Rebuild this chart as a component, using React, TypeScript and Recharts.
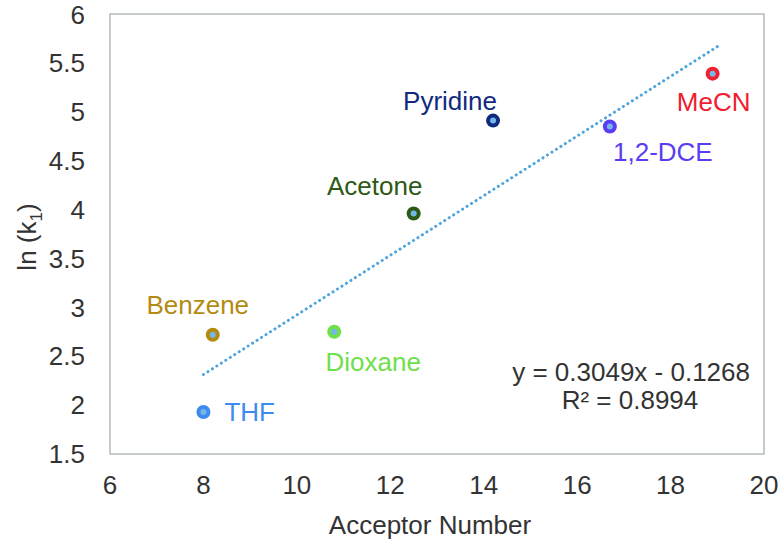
import { ScatterChart, Scatter, XAxis, YAxis, ReferenceArea, Customized } from 'recharts'

const solvents = ['THF', 'Benzene', 'Dioxane', 'Acetone', 'Pyridine', '1,2-DCE', 'MeCN']
const acceptorNumbers = [8.0, 8.2, 10.8, 12.5, 14.2, 16.7, 18.9]
const lnK1 = [1.93, 2.72, 2.75, 3.96, 4.91, 4.85, 5.39]

const xTicks = [6, 8, 10, 12, 14, 16, 18, 20]
const yTicks = [1.5, 2, 2.5, 3, 3.5, 4, 4.5, 5, 5.5, 6]

// linear fit shown on the chart
const slope = 0.3049
const intercept = -0.1268
const fitRange = [8.0, 19.0]

const font = '"Liberation Sans", Arial, sans-serif'
const textColor = '#333333'
const innerDot = '#74b6e8'
const fs = 26

const styles: Record<string, { color: string; dx: number; dy: number; anchor: string }> = {
  THF: { color: '#3d8bef', dx: 21, dy: 0, anchor: 'start' },
  Benzene: { color: '#b38b12', dx: -15, dy: -30, anchor: 'middle' },
  Dioxane: { color: '#6ee04a', dx: 39, dy: 30, anchor: 'middle' },
  Acetone: { color: '#2d5a14', dx: -39, dy: -27, anchor: 'middle' },
  Pyridine: { color: '#102a80', dx: -43, dy: -20, anchor: 'middle' },
  '1,2-DCE': { color: '#5a3df2', dx: 53, dy: 26, anchor: 'middle' },
  MeCN: { color: '#ef2030', dx: 1, dy: 28, anchor: 'middle' },
}

const points = solvents.map((name, i) => ({ name, x: acceptorNumbers[i], y: lnK1[i] }))
const trend = fitRange.map((x) => ({ x, y: slope * x + intercept }))

function marker(name: string) {
  const s = styles[name]
  return (props: any) => {
    const { cx, cy } = props
    return (
      <g>
        <circle cx={cx} cy={cy} r={7} fill={s.color} />
        <circle cx={cx} cy={cy} r={3} fill={innerDot} />
        <text
          x={cx + s.dx}
          y={cy + s.dy + 9}
          textAnchor={s.anchor as any}
          fill={s.color}
          fontSize={fs}
          fontFamily={font}
        >
          {name}
        </text>
      </g>
    )
  }
}

function Overlay() {
  return (
    <g fontFamily={font} fill={textColor} fontSize={fs}>
      <text transform="translate(27,237) rotate(-90)" textAnchor="middle" dy={9}>
        ln (k<tspan fontSize={17} dy={6}>1</tspan>
        <tspan dy={-6}>)</tspan>
      </text>
      <text x={430} y={534} textAnchor="middle">
        Acceptor Number
      </text>
      <text x={750} y={381} textAnchor="end">
        y = 0.3049x - 0.1268
      </text>
      <text x={630} y={409} textAnchor="middle">
        R² = 0.8994
      </text>
    </g>
  )
}

export default function App() {
  return (
    <div style={{ position: 'absolute', left: 0, top: 0, background: '#fff' }}>
      <ScatterChart width={784} height={545} margin={{ top: 14, right: 20, bottom: 0, left: 0 }}>
        <XAxis
          type="number"
          dataKey="x"
          domain={[6, 20]}
          ticks={xTicks}
          axisLine={false}
          tickLine={false}
          tickSize={0}
          tickMargin={22}
          height={91}
          tick={{ fill: textColor, fontSize: fs, fontFamily: font }}
        />
        <YAxis
          type="number"
          dataKey="y"
          domain={[1.5, 6]}
          ticks={yTicks}
          axisLine={false}
          tickLine={false}
          tickSize={0}
          tickMargin={25}
          width={110}
          tick={{ fill: textColor, fontSize: fs, fontFamily: font }}
        />
        <ReferenceArea x1={6} x2={20} y1={1.5} y2={6} fill="none" stroke="#b4bcbc" strokeWidth={1.5} ifOverflow="visible" />
        <Scatter
          data={trend}
          line={{ stroke: '#4ea5dd', strokeWidth: 3, strokeDasharray: '0.1 5.2', strokeLinecap: 'round' }}
          shape={() => <g />}
          isAnimationActive={false}
        />
        {points.map((p) => (
          <Scatter key={p.name} data={[p]} shape={marker(p.name)} isAnimationActive={false} />
        ))}
        <Customized component={<Overlay />} />
      </ScatterChart>
    </div>
  )
}
